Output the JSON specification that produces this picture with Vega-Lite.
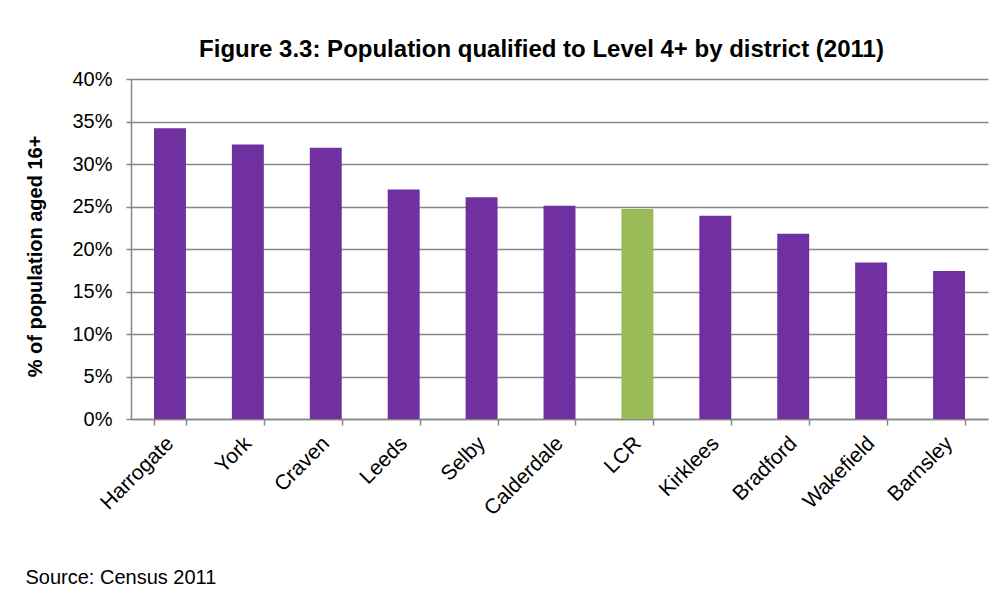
{
  "$schema": "https://vega.github.io/schema/vega-lite/v6.json",
  "width": 857,
  "height": 340,
  "autosize": {"type": "none"},
  "padding": {"left": 131, "top": 79, "right": 15, "bottom": 181},
  "background": "white",
  "config": {
    "font": "Liberation Sans",
    "view": {"stroke": null}
  },
  "title": {
    "text": "Figure 3.3: Population qualified to Level 4+ by district (2011)",
    "fontSize": 24,
    "fontWeight": "bold",
    "font": "Liberation Sans",
    "color": "#000000",
    "anchor": "middle",
    "dx": -18,
    "offset": 7
  },
  "data": {
    "values": [
      {"district": "Harrogate", "pct": 0.342, "group": "district"},
      {"district": "York", "pct": 0.323, "group": "district"},
      {"district": "Craven", "pct": 0.319, "group": "district"},
      {"district": "Leeds", "pct": 0.270, "group": "district"},
      {"district": "Selby", "pct": 0.261, "group": "district"},
      {"district": "Calderdale", "pct": 0.251, "group": "district"},
      {"district": "LCR", "pct": 0.247, "group": "LCR"},
      {"district": "Kirklees", "pct": 0.239, "group": "district"},
      {"district": "Bradford", "pct": 0.218, "group": "district"},
      {"district": "Wakefield", "pct": 0.184, "group": "district"},
      {"district": "Barnsley", "pct": 0.174, "group": "district"}
    ]
  },
  "mark": {"type": "bar"},
  "encoding": {
    "x": {
      "field": "district",
      "type": "nominal",
      "sort": null,
      "scale": {"paddingInner": 0.59, "paddingOuter": 0.295},
      "axis": {
        "title": "Source: Census 2011",
        "titleFontSize": 20,
        "titleFontWeight": "normal",
        "titleColor": "#000000",
        "titleX": -106,
        "titleY": 164,
        "titleAlign": "left",
        "titleAnchor": "start",
        "titleBaseline": "alphabetic",
        "labelAngle": -45,
        "labelAlign": "right",
        "labelBaseline": "middle",
        "labelFontSize": 21,
        "labelColor": "#000000",
        "labelPadding": 15,
        "tickBand": "extent",
        "tickSize": 6,
        "tickColor": "#868686",
        "domainColor": "#868686",
        "domainWidth": 1.5,
        "tickWidth": 1.5,
        "grid": false
      }
    },
    "y": {
      "field": "pct",
      "type": "quantitative",
      "scale": {"domain": [0, 0.4], "nice": false},
      "axis": {
        "title": "% of population aged 16+",
        "titleFontSize": 20,
        "titleFontWeight": "bold",
        "titleColor": "#000000",
        "titleAngle": 270,
        "titleX": -96,
        "titleY": 177,
        "titleAlign": "center",
        "titleBaseline": "middle",
        "format": ".0%",
        "values": [0, 0.05, 0.1, 0.15, 0.2, 0.25, 0.3, 0.35, 0.4],
        "labelFontSize": 20,
        "labelColor": "#000000",
        "labelPadding": 14,
        "tickSize": 5,
        "tickColor": "#868686",
        "tickWidth": 1.5,
        "domainColor": "#868686",
        "domainWidth": 1.5,
        "grid": true,
        "gridColor": "#868686",
        "gridWidth": 1.5
      }
    },
    "color": {
      "field": "group",
      "type": "nominal",
      "scale": {"domain": ["district", "LCR"], "range": ["#7030A0", "#9BBB59"]},
      "legend": null
    }
  }
}
